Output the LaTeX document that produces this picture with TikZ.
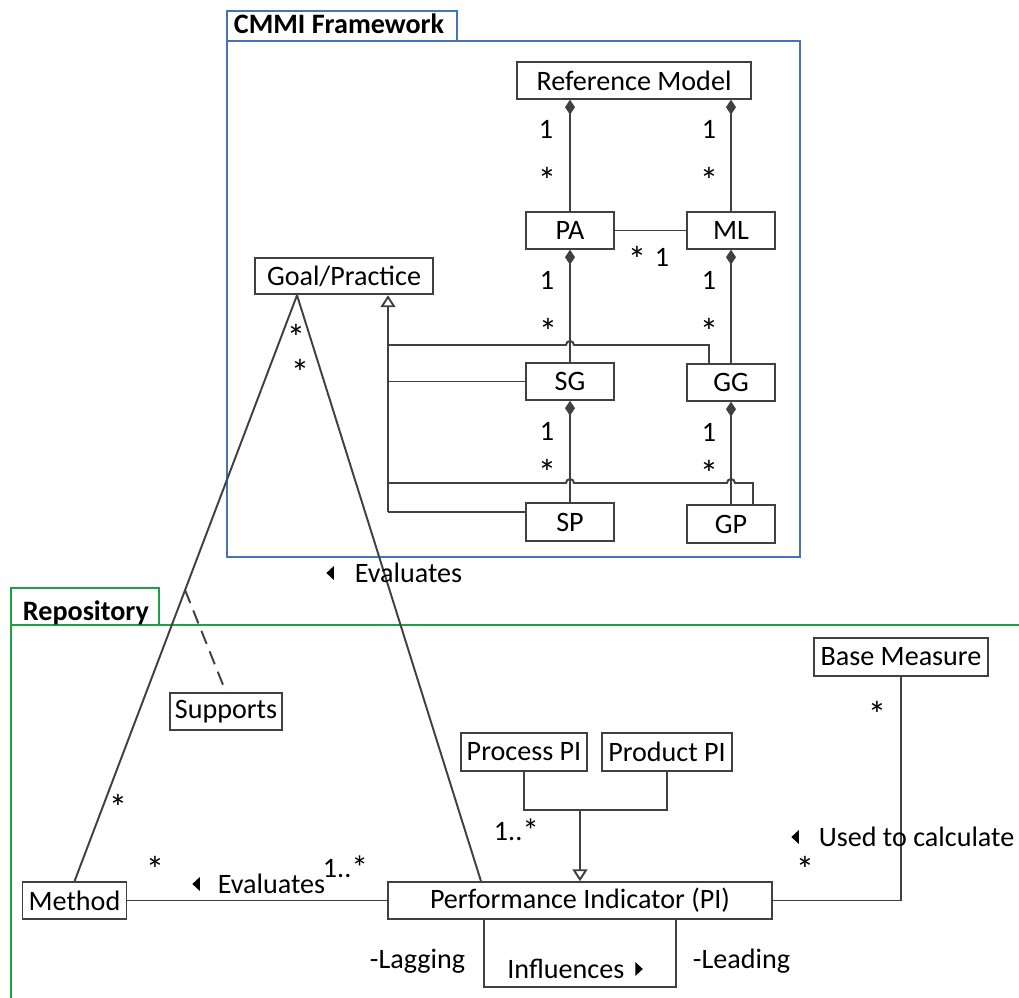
\documentclass[tikz,border=0pt]{standalone}
\usepackage{fontspec}
\setmainfont{Carlito}
\usetikzlibrary{arrows.meta,calc}

\definecolor{ink}{RGB}{64,64,64}
\definecolor{frameblue}{RGB}{70,115,180}
\definecolor{framegreen}{RGB}{30,160,70}

% small filled direction markers for association names
\newcommand\dirleft{\tikz[baseline=0pt]\fill[black] (0cm,0.18cm) -- (0.15cm,0.04cm) -- (0.15cm,0.32cm) -- cycle;}
\newcommand\dirright{\tikz[baseline=0pt]\fill[black] (0.15cm,0.18cm) -- (0cm,0.04cm) -- (0cm,0.32cm) -- cycle;}
% multiplicity "many" with a larger star
\newcommand\manystar{{\fontsize{19}{19}\selectfont\raisebox{-1.5pt}{*}}}

\begin{document}
\begin{tikzpicture}[x=0.02cm, y=-0.02cm, line width=1.1pt,
  every node/.style={font=\fontsize{16}{19}\selectfont},
  box/.style={draw=ink, fill=white, inner sep=0pt, minimum height=0.73cm},
  lbl/.style={anchor=base, inner sep=0pt},
  ast/.style={anchor=base, inner sep=0pt, font=\fontsize{21}{21}\selectfont},
  lblw/.style={anchor=base west, inner sep=0pt},
  link/.style={draw=ink},
  comp/.style={draw=ink, arrows={Diamond[length=0.3cm,width=0.2cm]-}},
  gen/.style={draw=ink, arrows={-Triangle[open,length=0.24cm,width=0.3cm,fill=white]}},
  pkgblue/.style={draw=frameblue, line width=0.8pt},
  pkggreen/.style={draw=framegreen, line width=0.8pt}]
\useasboundingbox (0,0) rectangle (1019,998);

% package frames
\draw[pkgblue] (227,41) rectangle (800,557);
\draw[pkgblue] (227,11) rectangle (457,41);
\node[lblw, font=\fontsize{16}{19}\selectfont\bfseries] (cmmi) at (233,33) {CMMI Framework};
\draw[pkggreen] (11,998) -- (11,588) -- (159,588) -- (159,625);
\draw[pkggreen] (11,625) -- (1019,625);
\node[lblw, font=\fontsize{16}{19}\selectfont\bfseries] (repo) at (22,620) {Repository};

% classes
\node[box, minimum width=4.68cm] (rm) at (634,80.5) {Reference Model};
\node[box, minimum width=1.76cm] (pa) at (570,230.5) {PA};
\node[box, minimum width=1.76cm] (ml) at (731,230.5) {ML};
\node[box, minimum width=3.56cm] (gpr) at (344,276) {Goal/Practice};
\node[box, minimum width=1.76cm] (sg) at (570,381.5) {SG};
\node[box, minimum width=1.76cm] (gg) at (731,382.5) {GG};
\node[box, minimum width=1.76cm, minimum height=0.76cm] (sp) at (570,522) {SP};
\node[box, minimum width=1.76cm, minimum height=0.76cm] (gp) at (731,524) {GP};
\node[box, minimum width=2.24cm] (sup) at (226,711.5) {Supports};
\node[box, minimum width=2.52cm, minimum height=0.76cm] (proc) at (524,752) {Process PI};
\node[box, minimum width=2.60cm, minimum height=0.76cm] (prod) at (667,752) {Product PI};
\node[box, minimum width=3.48cm, minimum height=0.76cm] (bm) at (901,657) {Base Measure};
\node[box, minimum width=2.08cm] (me) at (74.5,900.5) {Method};
\node[box, minimum width=7.70cm] (pi) at (580,900.5) {Performance Indicator (PI)};

% compositions inside the framework
\draw[comp] (rm.south -| pa.north) -- (pa.north);
\draw[comp] (rm.south -| ml.north) -- (ml.north);
\draw[link] (pa.east) -- (ml.west);
\draw[comp] (pa.south) -- (sg.north);
\draw[comp] (ml.south) -- (gg.north);
\draw[comp] (sg.south) -- (sp.north);
\draw[comp] (gg.south) -- (gp.north);

% generalisation tree towards Goal/Practice
\coordinate (bx) at (388,0);
\coordinate (spin) at ([yshift=0.2cm]sp.west);
\coordinate (ggin) at ([xshift=-0.44cm]gg.north);
\coordinate (gpin) at ([xshift=0.44cm]gp.north);
\draw[gen] (bx |- spin) -- (bx |- gpr.south);
\draw[link] (bx |- sg.west) -- (sg.west);
\draw[link] (bx |- spin) -- (spin);
\draw[link] (bx |- 0,345) -- (566,345) arc[start angle=180, end angle=0, radius=0.08cm]
  -- (ggin |- 0,345) -- (ggin);
\draw[link] (bx |- 0,483) -- (566,483) arc[start angle=180, end angle=0, radius=0.08cm]
  -- (727,483) arc[start angle=180, end angle=0, radius=0.08cm]
  -- (gpin |- 0,483) -- (gpin);

% Goal/Practice associations
\coordinate (apex) at ([xshift=-0.94cm]gpr.south);
\coordinate (piup) at ([xshift=-1.98cm]pi.north);
\draw[link] (apex) -- (me.north);
\draw[link] (apex) -- (piup);
\draw[link, dash pattern=on 0.28cm off 0.16cm] ($(apex)!0.503!(me.north)$) -- (sup.north);

% repository associations
\draw[link] (me.east) -- (pi.west);
\coordinate (join) at (580,810);
\draw[link] (proc.south) |- (join) -| (prod.south);
\draw[gen] (join) -- (join |- pi.north);
\draw[link] (pi.east) -| (bm.south);
\draw[link] ([xshift=-1.92cm]pi.south) -- ++(0,67) -| ([xshift=1.92cm]pi.south);

% multiplicities
\node[lbl] (m1) at (546,138) {1};
\node[ast] (m2) at (547,193) {*};
\node[lbl] (m3) at (709,138) {1};
\node[ast] (m4) at (709,193) {*};
\node[ast] (m5) at (637,272) {*};
\node[lbl] (m6) at (662,266) {1};
\node[lbl] (m7) at (547,289) {1};
\node[ast] (m8) at (548,344) {*};
\node[lbl] (m9) at (709,289) {1};
\node[ast] (m10) at (709,344) {*};
\node[lbl] (m11) at (547,440) {1};
\node[ast] (m12) at (547,485) {*};
\node[lbl] (m13) at (709,441) {1};
\node[ast] (m14) at (709,486) {*};
\node[ast] (m15) at (296,350) {*};
\node[ast] (m16) at (300,385) {*};
\node[ast] (m17) at (118,820) {*};
\node[lblw] (m18) at (493,840) {1..\manystar};
\node[ast] (m19) at (155,882) {*};
\node[lblw] (m20) at (322,877) {1..\manystar};
\node[ast] (m21) at (877,727) {*};
\node[ast] (m22) at (805,882) {*};

% association names and roles
\node[lblw] (ev1) at (326,582) {\dirleft\hspace{0.42cm}Evaluates};
\node[lblw] (ev2) at (192,893) {\dirleft\hspace{0.36cm}Evaluates};
\node[lblw] (utc) at (791,846) {\dirleft\hspace{0.4cm}Used to calculate};
\node[lblw] (inf) at (507,978) {Influences\hspace{0.22cm}\dirright};
\node[anchor=base east, inner sep=0pt] (lag) at (466,968) {-Lagging};
\node[lblw] (lead) at (692,968) {-Leading};
\end{tikzpicture}
\end{document}
